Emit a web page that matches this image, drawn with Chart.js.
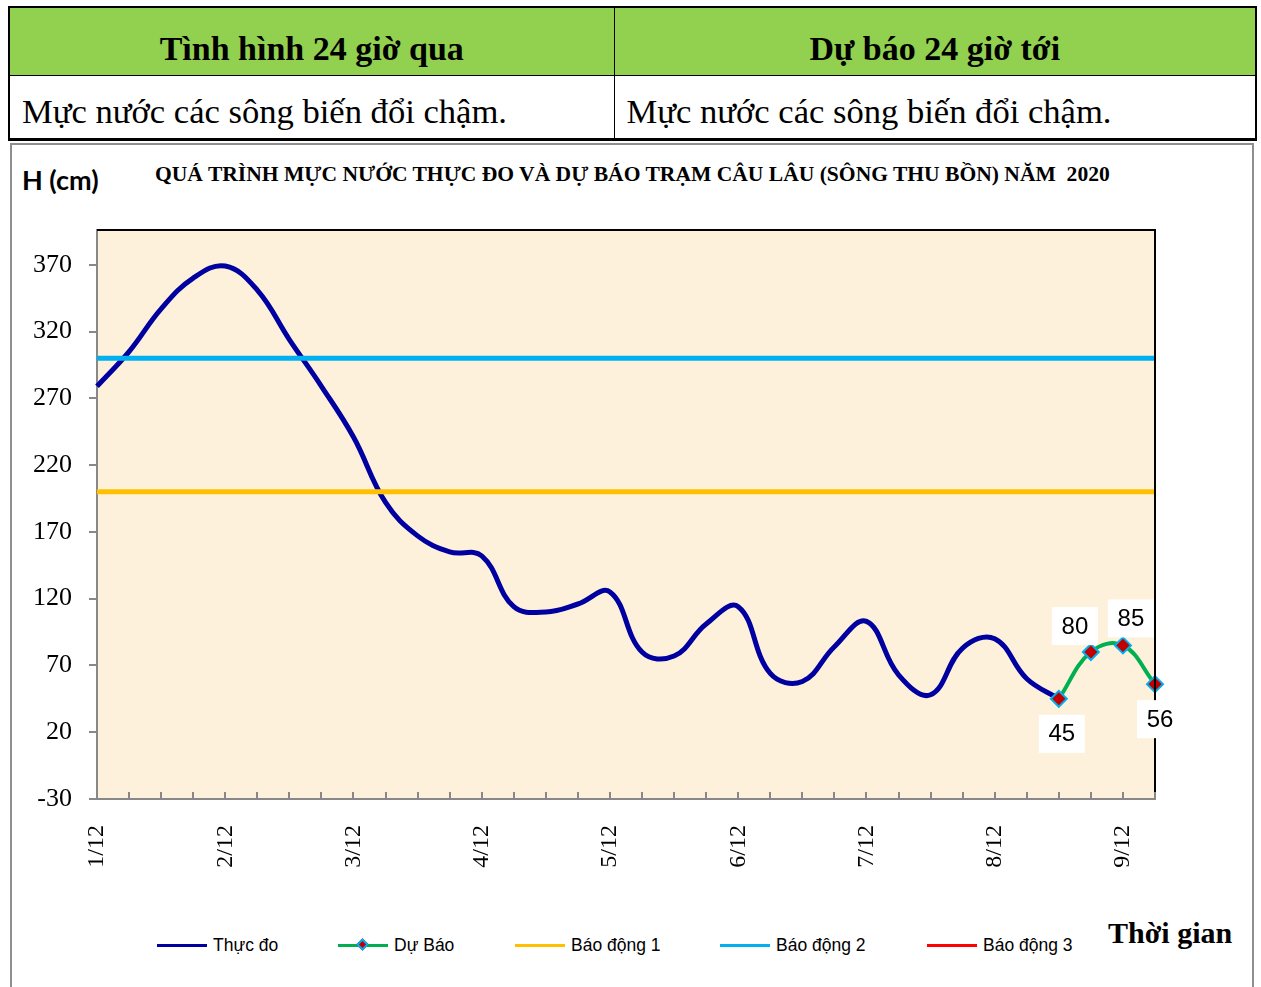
<!DOCTYPE html>
<html lang="vi">
<head>
  <meta charset="UTF-8">
  <title>Mực nước trạm Câu Lâu</title>
  <script src="https://cdn.jsdelivr.net/npm/chart.js"></script>
  <style>
    * { margin: 0; padding: 0; box-sizing: border-box; }
    body { width: 1261px; height: 987px; background: #fff; position: relative; overflow: hidden; }

    /* Top summary table */
    .summary {
      position: absolute; left: 8px; top: 6px; width: 1249px; height: 134px;
      border-collapse: collapse; font-family: "Liberation Serif", "Times New Roman", serif;
      border: 2px solid #000; border-bottom-width: 3px;
    }
    .summary th {
      background: #92D050; height: 68px; font-size: 34px; font-weight: bold;
      text-align: center; border: 1px solid #000; padding-top: 16px;
    }
    .summary td {
      height: 64px; font-size: 34.6px; padding-left: 12px; border: 1px solid #000; padding-top: 10px;
    }

    .chart-box {
      position: absolute; left: 10px; top: 143px; width: 1244px; height: 860px;
      border: 2px solid #8f8f8f;
    }
    .unit { position: absolute; left: 22px; top: 163px; font: bold 27px Lato, "Liberation Sans", sans-serif; }
    .title {
      position: absolute; left: 155px; top: 163px; white-space: nowrap; transform-origin: 0 0;
      font: bold 20px "Liberation Serif", "Times New Roman", serif;
    }
    .canvas-wrap { position: absolute; left: 12px; top: 145px; width: 1240px; height: 760px; }
    .legend { position: absolute; top: 935px; left: 0; font: 17.5px "Liberation Sans", Arial, sans-serif; }
    .legend .item { position: absolute; white-space: nowrap; display: flex; align-items: center; }
    .legend .swatch { display: inline-block; width: 50px; height: 3px; margin-right: 6px; position: relative; }
    .legend .swatch i {
      position: absolute; left: 20px; top: -4px; width: 9px; height: 9px; background: #C00000;
      border: 2px solid #00B0F0; transform: rotate(45deg);
    }
    .xname { position: absolute; left: 1108px; top: 916px; font: bold 30px "Liberation Serif", "Times New Roman", serif; }
  </style>
</head>
<body>

  <table class="summary">
    <tr><th style="width:605px">Tình hình 24 giờ qua</th><th>Dự báo 24 giờ tới</th></tr>
    <tr><td>Mực nước các sông biến đổi chậm.</td><td>Mực nước các sông biến đổi chậm.</td></tr>
  </table>

  <div class="chart-box"></div>
  <div class="unit">H (cm)</div>
  <div class="title" id="title">QUÁ TRÌNH MỰC NƯỚC THỰC ĐO VÀ DỰ BÁO TRẠM CÂU LÂU (SÔNG THU BỒN) NĂM&nbsp;&nbsp;2020</div>
  <div class="canvas-wrap"><canvas id="levelChart"></canvas></div>
  <div class="legend" id="legend"></div>
  <div class="xname">Thời gian</div>

  <script>
    // Dates (one label every 4 steps of 6 hours)
    const dates = ['1/12', '2/12', '3/12', '4/12', '5/12', '6/12', '7/12', '8/12', '9/12'];
    const stepsPerDay = 4;
    const pointCount = 34;

    // Observed water level (cm), every 6 hours from 1/12
    const observed = [279, 305, 337, 360, 369, 351, 314, 279, 241, 192,
                      167, 155, 152, 114, 110, 116, 125, 80, 77, 101,
                      114, 64, 58, 84, 103, 63, 48, 83, 90, 60, 45];
    // Forecast, starting at the last observed point
    const forecast = [45, 80, 85, 56];

    // Alarm levels (cm)
    const alarmNames = ['Báo động 1', 'Báo động 2', 'Báo động 3'];
    const alarmLevels = [200, 300, 400];
    const alarmColors = ['#FFC000', '#00B0F0', '#FF0000'];

    const yTicks = [-30, 20, 70, 120, 170, 220, 270, 320, 370];

    // labels for category axis
    const labels = [];
    for (let i = 0; i < pointCount; i++) {
      labels.push(i % stepsPerDay === 0 ? (dates[i / stepsPerDay] || '') : '');
    }
    const forecastStart = observed.length - 1;
    const forecastData = labels.map((_, i) =>
      i >= forecastStart && i - forecastStart < forecast.length ? forecast[i - forecastStart] : null);

    const datasets = [
      {
        label: 'Dự Báo', data: forecastData, borderColor: '#00B050', borderWidth: 4,
        tension: 0.4, pointStyle: 'rectRot', pointRadius: 8, pointBackgroundColor: '#C00000',
        pointBorderColor: '#00B0F0', pointBorderWidth: 2, order: 0
      },
      {
        label: 'Thực đo', data: observed, borderColor: '#0000A0', borderWidth: 5,
        tension: 0.4, pointRadius: 0, order: 3
      }
    ];
    alarmLevels.forEach((lv, k) => {
      datasets.push({
        label: alarmNames[k], data: labels.map(() => lv), borderColor: alarmColors[k],
        borderWidth: 5, pointRadius: 0, order: 1, clip: 0
      });
    });

    // plot background + black top/right frame + inner x ticks
    const frame = {
      id: 'frame',
      beforeDraw(chart) {
        const { ctx, chartArea: a } = chart;
        ctx.save();
        ctx.fillStyle = '#FEF1DC';
        ctx.fillRect(a.left, a.top, a.right - a.left, a.bottom - a.top);
        ctx.restore();
      },
      afterDraw(chart) {
        const { ctx, chartArea: a } = chart;
        const xs = chart.scales.x;
        ctx.save();
        ctx.strokeStyle = '#000';
        ctx.lineWidth = 2;
        ctx.beginPath();
        ctx.moveTo(a.left, a.top);
        ctx.lineTo(a.right, a.top);
        ctx.lineTo(a.right, a.bottom);
        ctx.stroke();
        ctx.strokeStyle = '#888';
        ctx.lineWidth = 2;
        for (let i = 1; i < pointCount; i++) {
          const x = Math.round(xs.getPixelForTick(i));
          ctx.beginPath();
          ctx.moveTo(x, a.bottom);
          ctx.lineTo(x, a.bottom - 7);
          ctx.stroke();
        }
        ctx.restore();
      }
    };

    // value labels on the forecast points (drawn after the frame)
    const labelOffsets = [[3, 35], [-16, -26], [8, -27], [5, 35]];
    const valueLabels = {
      id: 'valueLabels',
      afterDraw(chart) {
        const { ctx } = chart;
        const meta = chart.getDatasetMeta(0);
        ctx.save();
        ctx.font = '24px "Liberation Sans", Arial, sans-serif';
        ctx.textAlign = 'center';
        ctx.textBaseline = 'middle';
        forecast.forEach((v, k) => {
          const pt = meta.data[forecastStart + k];
          const cx = pt.x + labelOffsets[k][0], cy = pt.y + labelOffsets[k][1];
          ctx.fillStyle = '#fff';
          ctx.fillRect(cx - 23, cy - 19, 46, 38);
          ctx.fillStyle = '#000';
          ctx.fillText(String(v), cx, cy + 1);
        });
        ctx.restore();
      }
    };

    new Chart(document.getElementById('levelChart'), {
      type: 'line',
      data: { labels, datasets },
      options: {
        responsive: true,
        maintainAspectRatio: false,
        animation: false,
        layout: { padding: { top: 85, right: 97, left: 0, bottom: 0 } },
        plugins: { legend: { display: false }, tooltip: { enabled: false } },
        scales: {
          x: {
            offset: false,
            grid: { drawOnChartArea: false, drawTicks: false },
            border: { color: '#888', width: 2 },
            ticks: {
              autoSkip: false, minRotation: 90, maxRotation: 90, padding: 26, color: '#000',
              font: { family: '"Liberation Serif", "Times New Roman", serif', size: 24 }
            },
            afterFit(s) { s.height = 106; }
          },
          y: {
            min: -30, max: 396,
            grid: { drawOnChartArea: false, drawTicks: true, tickLength: 8, color: '#888', lineWidth: 2 },
            border: { color: '#888', width: 2 },
            ticks: {
              padding: 17, color: '#000',
              font: { family: '"Liberation Serif", "Times New Roman", serif', size: 26 }
            },
            afterBuildTicks(s) { s.ticks = yTicks.map(v => ({ value: v })); },
            afterFit(s) { s.width = 85; }
          }
        }
      },
      plugins: [frame, valueLabels]
    });

    // legend
    const legendItems = [
      { name: 'Thực đo', color: '#0000A0', left: 157 },
      { name: 'Dự Báo', color: '#00B050', left: 338, marker: true },
      { name: alarmNames[0], color: alarmColors[0], left: 515 },
      { name: alarmNames[1], color: alarmColors[1], left: 720 },
      { name: alarmNames[2], color: alarmColors[2], left: 927 }
    ];
    const legend = document.getElementById('legend');
    legendItems.forEach(it => {
      const el = document.createElement('div');
      el.className = 'item';
      el.style.left = it.left + 'px';
      el.innerHTML = '<span class="swatch" style="background:' + it.color + '">' +
        (it.marker ? '<i></i>' : '') + '</span>' + it.name;
      legend.appendChild(el);
    });

    // squeeze title to its width in the original
    const t = document.getElementById('title');
    t.style.transform = 'scaleX(' + (955 / t.offsetWidth) + ')';
  </script>
</body>
</html>
